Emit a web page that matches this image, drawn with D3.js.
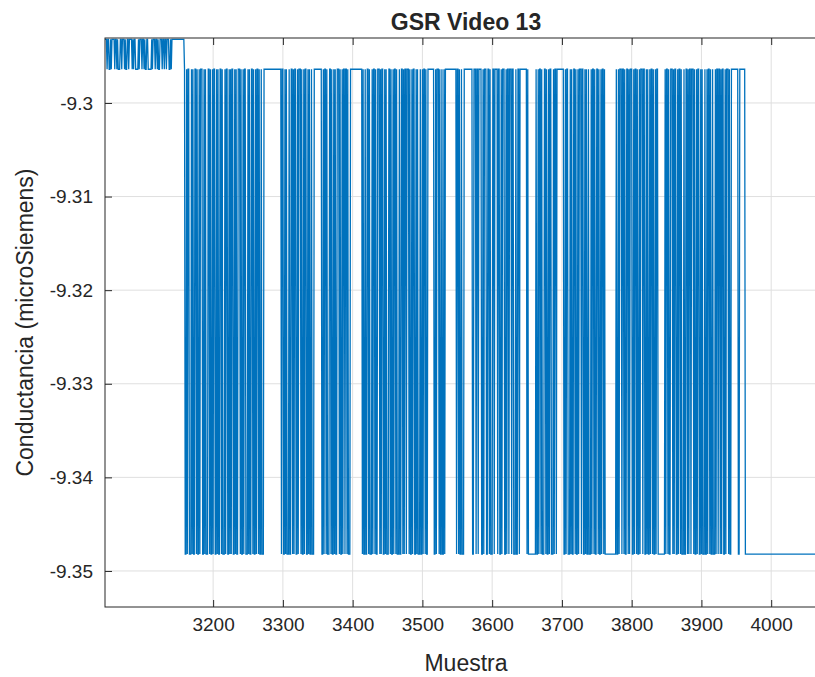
<!DOCTYPE html>
<html>
<head>
<meta charset="utf-8">
<script src="https://cdn.jsdelivr.net/npm/d3@7"></script>
<style>
  body { margin: 0; background: #fff; }
  text { font-family: "Liberation Sans", Arial, sans-serif; fill: #262626; }
</style>
</head>
<body>
<svg id="chart" width="815" height="677"></svg>
<script>
// ---- data ----
const firstSample = 3045;
const levelTop = -9.2932;   // short upper level at the start
const levelMid = -9.2964;
const levelLow = -9.3482;

// run lengths (samples), alternating top / mid, starting with top
const preRuns = [3,1,2,2,1,1,4,1,2,1,1,3,2,1,3,1,1,2,2,1,4,1,1,1,2,4,1,1,3,1,2,1,1,2,2,5,1,1,3,1,2,1,1,2,3,1,2,1,2,1,3,2,1,1,18,1];

// run lengths (samples), alternating low / mid, starting with low
const mainRuns = [
  2,1,1,2,3,1,1,1,2,2,1,1,2,1,1,3,2,1,1,1,3,2,1,1,2,1,1,2,2,1,1,1,2,2,1,1,3,1,1,2,2,1,1,1,1,2,2,1,1,1,2,3,1,1,2,1,1,2,3,1,1,1,2,2,1,1,2,1,1,2,1,1,2,1,3,
  25,
  1,2,2,1,1,1,3,1,2,2,1,1,1,2,2,1,1,3,1,1,2,1,1,2,2,1,1,1,2,1,3,
  11,
  2,1,1,2,1,1,3,2,1,1,2,1,1,1,2,3,1,1,2,1,1,2,1,2,1,1,3,
  17,
  1,1,2,1,2,2,1,1,3,1,1,2,1,1,2,3,1,1,1,2,2,1,1,1,3,2,1,1,2,1,1,2,1,1,3,1,2,2,1,1,1,2,1,3,1,1,2,1,1,2,2,1,1,1,3,1,2,1,1,2,1,1,2,
  9,
  2,1,1,3,1,1,2,1,2,1,1,
  16,
  1,2,1,1,2,1,3,
  12,
  2,3,1,2,1,4,2,1,1,3,2,2,1,1,3,2,1,4,1,2,2,1,1,3,2,1,1,2,1,3,1,2,3,1,2,2,1,
  10,1,1,11,
  1,2,1,1,2,1,1,3,2,1,1,2,1,1,2,3,1,1,2,1,
  10,
  2,1,1,2,3,1,1,1,2,2,1,1,2,1,1,3,1,2,2,1,1,1,2,1,3,1,1,2,1,1,2,2,1,1,2,1,1,2,1,1,
  16,
  1,2,1,1,3,1,2,1,1,2,2,1,1,1,3,2,1,1,2,1,1,2,1,1,3,1,2,2,1,1,1,2,1,1,2,1,1,2,1,1,2,
  10,
  1,1,2,1,1,2,3,1,1,1,2,2,1,1,2,1,1,3,1,2,2,1,1,1,2,1,3,1,1,2,1,1,2,2,1,1,1,3,1,2,1,1,2,1,1,2,1,3,1,1,2,1,2,1,1,1,2,2,1,1,3,1,1,2,
  10,2,8,120
];

const xTicks = [3200, 3300, 3400, 3500, 3600, 3700, 3800, 3900, 4000];
const yTicks = [-9.35, -9.34, -9.33, -9.32, -9.31, -9.3];
const xDomain = [3045, 4080];
const yDomain = [-9.35385, -9.29306];

// ---- layout ----
const plot = { left: 105, top: 38, right: 827, bottom: 607 };
const W = plot.right - plot.left, H = plot.bottom - plot.top;

const svg = d3.select("#chart");
const g = svg.append("g").attr("transform", `translate(${plot.left},${plot.top})`);

const x = d3.scaleLinear().domain(xDomain).range([0, W]);
const y = d3.scaleLinear().domain(yDomain).range([H, 0]);

// expand runs into samples
const samples = [];
let s = firstSample;
preRuns.forEach((n, i) => {
  for (let k = 0; k < n; k++) samples.push({ s: s++, v: i % 2 === 0 ? levelTop : levelMid });
});
mainRuns.forEach((n, i) => {
  for (let k = 0; k < n; k++) samples.push({ s: s++, v: i % 2 === 0 ? levelLow : levelMid });
});

svg.append("defs").append("clipPath").attr("id", "clip")
  .append("rect").attr("width", W).attr("height", H);

// grid
g.append("g").selectAll("line").data(xTicks).join("line")
  .attr("x1", d => x(d)).attr("x2", d => x(d)).attr("y1", 0).attr("y2", H)
  .attr("stroke", "#dfdfdf").attr("stroke-width", 1);
g.append("g").selectAll("line").data(yTicks).join("line")
  .attr("y1", d => y(d)).attr("y2", d => y(d)).attr("x1", 0).attr("x2", W)
  .attr("stroke", "#dfdfdf").attr("stroke-width", 1);

// signal
const line = d3.line().x(d => x(d.s)).y(d => y(d.v));
g.append("path").datum(samples)
  .attr("clip-path", "url(#clip)")
  .attr("d", line)
  .attr("fill", "none")
  .attr("stroke", "#0072BD")
  .attr("stroke-width", 1.3);

// axes
const fmt = d => String(+d.toFixed(2));
const xAxis = g.append("g").attr("transform", `translate(0,${H})`)
  .call(d3.axisBottom(x).tickValues(xTicks).tickSizeInner(-7).tickSizeOuter(0).tickPadding(11).tickFormat(fmt));
const xTop = g.append("g")
  .call(d3.axisTop(x).tickValues(xTicks).tickSizeInner(-7).tickSizeOuter(0).tickFormat(""));
const yAxis = g.append("g")
  .call(d3.axisLeft(y).tickValues(yTicks).tickSizeInner(-7).tickSizeOuter(0).tickPadding(12).tickFormat(fmt));
[xAxis, xTop, yAxis].forEach(a => {
  a.select(".domain").remove();
  a.selectAll(".tick line").attr("stroke", "#262626");
  a.selectAll(".tick text").attr("font-size", 19).attr("fill", "#262626")
    .style("font-family", "'Liberation Sans', Arial, sans-serif");
});

// box
g.append("rect").attr("width", W).attr("height", H)
  .attr("fill", "none").attr("stroke", "#262626").attr("stroke-width", 1);

// titles
svg.append("text").attr("x", plot.left + W / 2).attr("y", 30)
  .attr("text-anchor", "middle").attr("font-size", 23).attr("font-weight", "bold")
  .text("GSR Video 13");
svg.append("text").attr("x", plot.left + W / 2).attr("y", 671)
  .attr("text-anchor", "middle").attr("font-size", 23)
  .text("Muestra");
svg.append("text").attr("transform", `translate(33,${plot.top + H / 2}) rotate(-90)`)
  .attr("text-anchor", "middle").attr("font-size", 23)
  .text("Conductancia (microSiemens)");
</script>
</body>
</html>
